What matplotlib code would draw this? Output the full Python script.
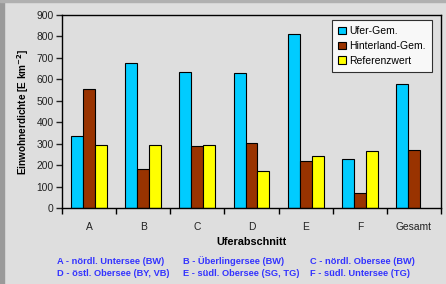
import numpy as np
import matplotlib.pyplot as plt
from matplotlib.patches import Rectangle

categories = ["A", "B", "C", "D", "E", "F", "Gesamt"]
ufer = [336, 678, 633, 628, 812, 229, 577]
hinterland = [555, 180, 289, 305, 221, 68, 270]
referenz = [294, 295, 295, 174, 243, 266, np.nan]

footnotes = [
    ["A - nördl. Untersee (BW)", "B - Überlingersee (BW)", "C - nördl. Obersee (BW)"],
    ["D - östl. Obersee (BY, VB)", "E - südl. Obersee (SG, TG)", "F - südl. Untersee (TG)"],
]

plt.rcParams['font.family'] = ['Liberation Sans', 'DejaVu Sans']

bg = '#dedede'
fig = plt.figure(figsize=(4.46, 2.84), dpi=100, facecolor=bg)
# darker frame on left/top edge
fig.patches.append(Rectangle((0, 0), 0.009, 1, transform=fig.transFigure, color='#9a9a9a', zorder=0))
fig.patches.append(Rectangle((0, 0.993), 1, 0.007, transform=fig.transFigure, color='#b0b0b0', zorder=0))

ax = fig.add_axes([62/446, 1 - 208/284, (441 - 62)/446, (208 - 15)/284])
ax.set_facecolor(bg)

x = np.arange(len(categories))
w = 0.22
kw = dict(edgecolor='black', linewidth=0.8)
ax.bar(x - w, ufer, w, color='#00ccff', label='Ufer-Gem.', **kw)
ax.bar(x, hinterland, w, color='#993300', label='Hinterland-Gem.', **kw)
ax.bar(x + w, referenz, w, color='#ffff00', label='Referenzwert', **kw)

ax.set_xlim(-0.5, len(categories) - 0.5)
ax.set_ylim(0, 900)
ax.set_yticks(range(0, 901, 100))
ax.set_xticks(x)
ax.set_xticklabels(categories)
ax.set_xticks(np.arange(-0.5, len(categories), 1), minor=True)
ax.tick_params(axis='x', which='major', length=0, pad=10, labelsize=7.4, colors='#222222')
ax.tick_params(axis='x', which='minor', length=4, direction='out', width=1)
ax.tick_params(axis='y', length=4, direction='out', width=1, labelsize=7.4, pad=2, colors='#222222')
for s in ax.spines.values():
    s.set_color('black')
    s.set_linewidth(1)

ax.set_ylabel('Einwohnerdichte [E km$^{\\mathbf{-2}}$]', fontsize=7.2, fontweight='bold', labelpad=4)
ax.set_xlabel('Uferabschnitt', fontsize=7.8, fontweight='bold', labelpad=4)

leg = ax.legend(loc='upper right', fontsize=7.5, frameon=True, fancybox=False,
                edgecolor='black', handlelength=0.7, handleheight=0.7,
                handletextpad=0.35, borderpad=0.6, labelspacing=0.45,
                borderaxespad=0, bbox_to_anchor=(0.976, 0.974))
leg.get_frame().set_facecolor('white')
leg.get_frame().set_linewidth(0.8)

xs = [57, 183, 310]
ys = [261, 274]
for row, yy in zip(footnotes, ys):
    for txt, xx in zip(row, xs):
        fig.text(xx/446, 1 - yy/284, txt, fontsize=6.7, fontweight='bold',
                 color='#3333ff', va='center', ha='left')

fig.savefig('out.png', dpi=100, facecolor=bg)
